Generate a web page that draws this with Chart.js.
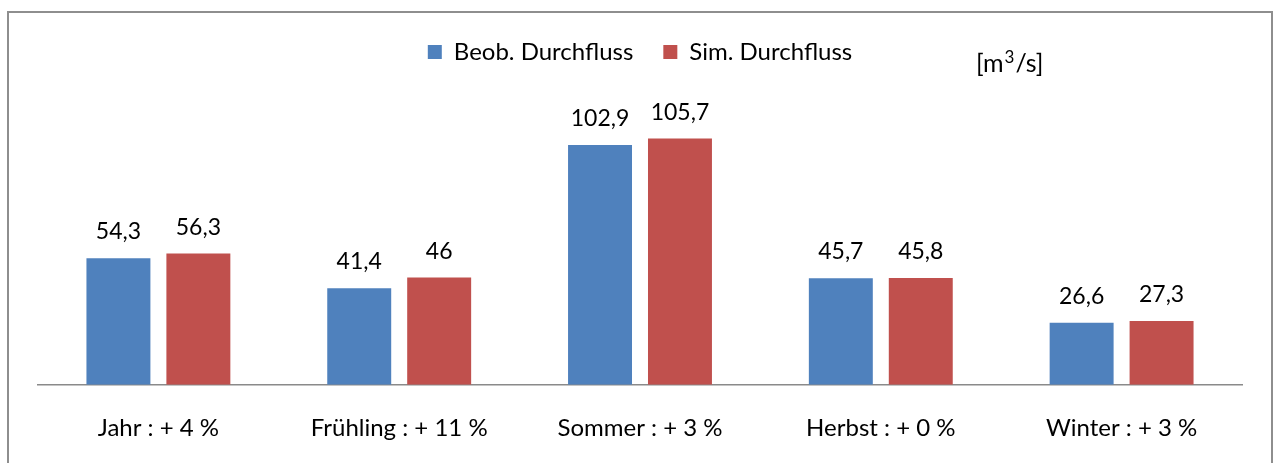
<!DOCTYPE html>
<html>
<head>
<meta charset="utf-8">
<script src="https://cdn.jsdelivr.net/npm/chart.js@4.4.0/dist/chart.umd.min.js"></script>
<style>
  html, body { margin: 0; padding: 0; background: #fff; overflow: hidden; }
  #frame {
    position: absolute; left: 7px; top: 11px; width: 1262px; height: 470px;
    border: 2px solid #8e8e8e; border-bottom: none;
  }
  #wrap { position: absolute; left: 0; top: 0; width: 1273px; height: 463px; }
</style>
</head>
<body>
<div id="frame"></div>
<div id="wrap"><canvas id="myChart"></canvas></div>
<script>
const categories = ['Jahr : + 4 %', 'Frühling : + 11 %', 'Sommer : + 3 %', 'Herbst : + 0 %', 'Winter : + 3 %'];
const beobValues = [54.3, 41.4, 102.9, 45.7, 26.6];
const simValues = [56.3, 46, 105.7, 45.8, 27.3];
const seriesNames = ['Beob. Durchfluss', 'Sim. Durchfluss'];
const unitLabel = ['[m', '3', '/s]'];

const FONT = 'Lato';

// value labels on top of each bar, comma as decimal mark
const barLabels = {
    id: 'barLabels',
    afterDatasetsDraw(chart) {
        const ctx = chart.ctx;
        ctx.save();
        ctx.font = '23px ' + FONT;
        ctx.fillStyle = '#000000';
        ctx.textAlign = 'center';
        ctx.textBaseline = 'alphabetic';
        chart.data.datasets.forEach((ds, i) => {
            chart.getDatasetMeta(i).data.forEach((bar, j) => {
                const txt = String(ds.data[j]).replace('.', ',');
                ctx.fillText(txt, bar.x, bar.y - 19);
            });
        });
        ctx.restore();
    }
};

// unit text with superscript at the top right
const unitText = {
    id: 'unitText',
    afterDraw(chart) {
        const ctx = chart.ctx;
        ctx.save();
        ctx.fillStyle = '#000000';
        ctx.textBaseline = 'alphabetic';
        let x = 976;
        const y = 72;
        ctx.font = '25px ' + FONT;
        ctx.fillText(unitLabel[0], x, y);
        x += ctx.measureText(unitLabel[0]).width + 1;
        ctx.font = '17px ' + FONT;
        ctx.fillText(unitLabel[1], x, y - 9);
        x += ctx.measureText(unitLabel[1]).width + 1;
        ctx.font = '25px ' + FONT;
        ctx.fillText(unitLabel[2], x, y);
        ctx.restore();
    }
};

const ctx = document.getElementById('myChart').getContext('2d');

const myChart = new Chart(ctx, {
    type: 'bar',
    data: {
        labels: categories,
        datasets: [{
            label: seriesNames[0],
            data: beobValues,
            backgroundColor: '#4F81BD',
            borderWidth: 0
        }, {
            label: seriesNames[1],
            data: simValues,
            backgroundColor: '#C0504D',
            borderWidth: 0
        }]
    },
    options: {
        responsive: true,
        maintainAspectRatio: false,
        animation: false,
        categoryPercentage: 0.664,
        barPercentage: 0.8,
        layout: {
            padding: { left: 38, right: 31, top: 10, bottom: -8.5 }
        },
        plugins: {
            legend: {
                display: true,
                position: 'top',
                labels: {
                    boxWidth: 14,
                    boxHeight: 14,
                    padding: 30,
                    color: '#000000',
                    font: { size: 24, family: FONT }
                }
            },
            tooltip: { enabled: false }
        },
        scales: {
            x: {
                grid: { display: false, drawTicks: false },
                border: { display: true, color: '#8a8a8a', width: 1.5 },
                ticks: {
                    color: '#000000',
                    padding: 29,
                    font: { size: 24, family: FONT }
                }
            },
            y: {
                display: false,
                min: 0,
                max: 133.4
            }
        }
    },
    plugins: [barLabels, unitText]
});
</script>
</body>
</html>
